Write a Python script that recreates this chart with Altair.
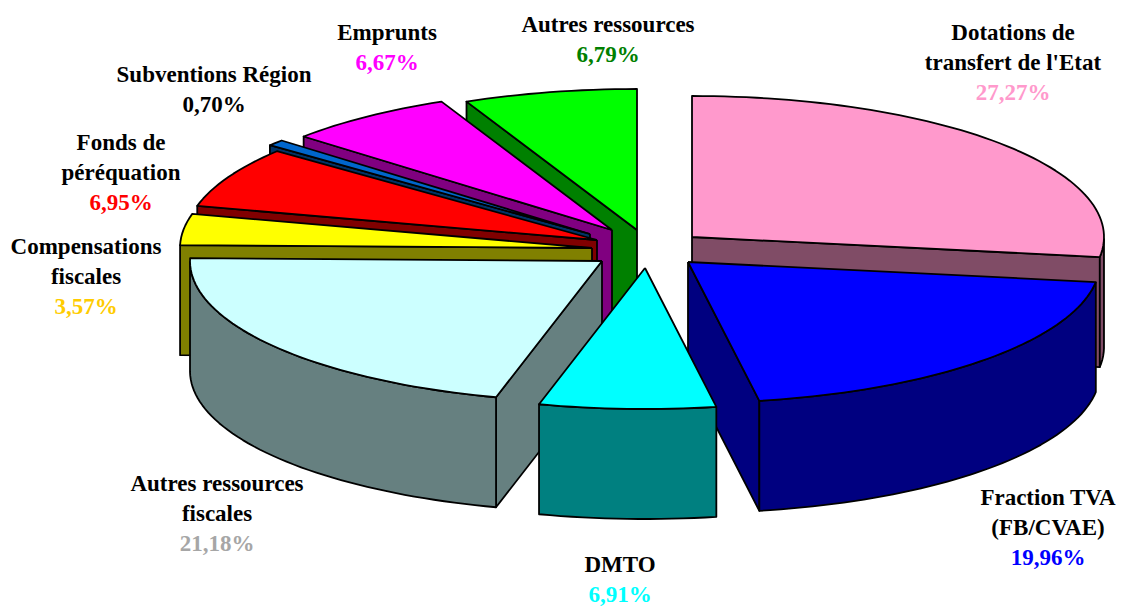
import math
import altair as alt
import pandas as pd

categories = ["Dotations de transfert de l'Etat", "Fraction TVA (FB/CVAE)", "DMTO",
              "Autres ressources fiscales", "Compensations fiscales", "Fonds de péréquation",
              "Subventions Région", "Emprunts", "Autres ressources"]
shares = [27.27, 19.96, 6.91, 21.18, 3.57, 6.95, 0.70, 6.67, 6.79]
top_colors = ["#FF99CC", "#0000FF", "#00FFFF", "#CCFFFF", "#FFFF00", "#FF0000", "#0066CC", "#FF00FF", "#00FF00"]
side_colors = ["#804C66", "#000080", "#008080", "#668080", "#808000", "#800000", "#003366", "#800080", "#008000"]
label_lines = [["Dotations de", "transfert de l'Etat"], ["Fraction TVA", "(FB/CVAE)"], ["DMTO"],
               ["Autres ressources", "fiscales"], ["Compensations", "fiscales"], ["Fonds de", "péréquation"],
               ["Subventions Région"], ["Emprunts"], ["Autres ressources"]]
pct_labels = ["27,27%", "19,96%", "6,91%", "21,18%", "3,57%", "6,95%", "0,70%", "6,67%", "6,79%"]
pct_colors = ["#FF99CC", "#0000FF", "#00FFFF", "#A6A6A6", "#FFCC00", "#FF0000", "#000000", "#FF00FF", "#008000"]

# layout of the exploded 3-D pie
centers = [(692, 237), (688, 262), (645, 268), (602, 261), (592, 248), (597, 240), (590, 234), (612, 230), (637, 230)]
label_anchor = [(1013, 33), (1048, 498), (620, 565), (217, 484), (86, 247), (121, 143), (214, 75), (387, 33), (608, 25)]
RX, RY, DEPTH = 412, 141, 110
LINE = 30
draw_order = [8, 7, 6, 5, 4, 3, 0, 1, 2]

rows = []
seq = 0


def add_face(name, color, pts):
    global seq
    for px, py in pts + pts[:1]:
        rows.append({"face": name, "fill": color, "x": px, "y": py, "seq": seq})
        seq += 1


def rim(c, t):
    a = math.radians(t)
    return (c[0] + RX * math.sin(a), c[1] - RY * math.cos(a))


starts = []
acc = 0.0
for s in shares:
    starts.append(acc)
    acc += s

for i in draw_order:
    c = centers[i]
    t0 = starts[i] * 3.6
    t1 = (starts[i] + shares[i]) * 3.6
    n = max(3, int((t1 - t0) / 1.5))
    ts = [t0 + (t1 - t0) * k / n for k in range(n + 1)]
    top = [rim(c, t) for t in ts]
    if math.sin(math.radians(t0)) < -1e-9:
        p = rim(c, t0)
        add_face(f"{i}s", side_colors[i], [c, p, (p[0], p[1] + DEPTH), (c[0], c[1] + DEPTH)])
    if math.sin(math.radians(t1)) > 1e-9:
        p = rim(c, t1)
        add_face(f"{i}e", side_colors[i], [c, p, (p[0], p[1] + DEPTH), (c[0], c[1] + DEPTH)])
    fr = [t for t in ts if 90 <= t <= 270]
    if len(fr) > 1:
        edge = [rim(c, t) for t in fr]
        add_face(f"{i}w", side_colors[i], edge + [(q[0], q[1] + DEPTH) for q in reversed(edge)])
    add_face(f"{i}t", top_colors[i], [c] + top)

faces = pd.DataFrame(rows)

text_rows = []
for i, lines in enumerate(label_lines):
    ax, ay = label_anchor[i]
    for j, ln in enumerate(lines):
        text_rows.append({"x": ax, "y": ay + j * LINE, "label": ln, "color": "#000000"})
    text_rows.append({"x": ax, "y": ay + len(lines) * LINE, "label": pct_labels[i], "color": pct_colors[i]})
texts = pd.DataFrame(text_rows)

xs = alt.X("x:Q", scale=alt.Scale(domain=[8, 1116]), axis=None)
ys = alt.Y("y:Q", scale=alt.Scale(domain=[606, 8]), axis=None)

pie = alt.Chart(faces).mark_line(stroke="#000000", strokeWidth=1.8, clip=False, strokeJoin="round").encode(
    x=xs, y=ys, detail="face:N", order="seq:Q", fill=alt.Fill("fill:N", scale=None))

labels = alt.Chart(texts).mark_text(font="Liberation Serif", fontWeight="bold", fontSize=23).encode(
    x=xs, y=ys, text="label:N", color=alt.Color("color:N", scale=None))

chart = (pie + labels).properties(width=1108, height=598, padding=0, autosize="none", background="white").configure_view(stroke=None)
chart.save("out.html", embed_options={"renderer": "svg", "actions": False})
